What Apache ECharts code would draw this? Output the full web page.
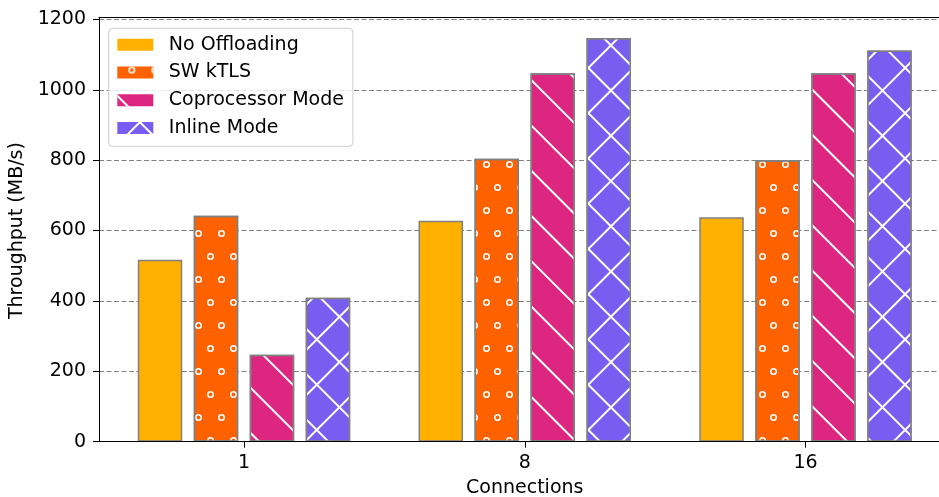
<!DOCTYPE html>
<html><head><meta charset="utf-8">
<script src="https://cdn.jsdelivr.net/npm/echarts@6/dist/echarts.min.js"></script>
<style>html,body{margin:0;padding:0;background:#fff}#c{width:939px;height:497px}</style>
</head><body><div id="c"></div>
<script>
// ---- data ----
const categories = ['1', '8', '16'];
const seriesNames = ['No Offloading', 'SW kTLS', 'Coprocessor Mode', 'Inline Mode'];
const noOffloading = [517, 628, 638];
const swKtls = [642, 804, 800];
const coprocessorMode = [247, 1047, 1047];
const inlineMode = [409, 1147, 1112];
const yTickMin = 0, yTickMax = 1200, yTickStep = 200;
const xAxisTitle = 'Connections';
const yAxisTitle = 'Throughput (MB/s)';

// ---- layout / style ----
const FONT = 'DejaVu Sans';
const FS = 19;
const axisTop = 1206;
const L = 99, T = 17.3, B = 55.3;
const plotH = 497 - T - B;
const pxPerUnit = plotH / axisTop;
const tickTop = T + (axisTop - yTickMax) * pxPerUnit;
const colors = ['#FFB000', '#FE6100', '#DC267F', '#785EF0'];
const ring = 'path://M10,0A10,10,0,1,1,-10,0A10,10,0,1,1,10,0Z M5.6,0A5.6,5.6,0,1,0,-5.6,0A5.6,5.6,0,1,0,5.6,0Z';
const decals = [
  null,
  { symbol: ring, symbolSize: 1, dashArrayX: [[7, 16], [0, 11, 7, 5]], dashArrayY: [7, 16], color: '#ffffff', rotation: 0 },
  { symbol: 'rect', symbolSize: 1, dashArrayX: [1, 0], dashArrayY: [2, 30], color: '#ffffff', rotation: Math.PI / 4 },
  { symbol: 'path://M0,15H32V17H0Z M15,0H17V32H15Z', symbolSize: 1, dashArrayX: [32, 0], dashArrayY: [32, 0], color: '#ffffff', rotation: Math.PI / 4 }
];
const values = [noOffloading, swKtls, coprocessorMode, inlineMode];

const frameAxis = (extra) => Object.assign({
  type: 'value', min: 0, max: 1, z: 3,
  axisLine: { show: true, lineStyle: { color: '#000', width: 1 } },
  axisTick: { show: false }, axisLabel: { show: false }, splitLine: { show: false }
}, extra);

const chart = echarts.init(document.getElementById('c'), null, { renderer: 'canvas' });
chart.setOption({
  animation: false,
  backgroundColor: '#ffffff',
  textStyle: { fontFamily: FONT },
  grid: [
    { left: L, right: 0, top: T, bottom: B, outerBoundsMode: 'none', containLabel: false },
    { left: L, right: 0, top: tickTop, bottom: B, outerBoundsMode: 'none', containLabel: false },
    { left: 103.6, width: 842.3, top: T, bottom: B, outerBoundsMode: 'none', containLabel: false }
  ],
  xAxis: [
    frameAxis({ gridIndex: 0, position: 'bottom' }),
    frameAxis({ gridIndex: 0, position: 'top' }),
    { gridIndex: 1, type: 'value', min: 0, max: 1, show: false },
    {
      gridIndex: 2, type: 'category', data: categories,
      axisLine: { show: false },
      axisTick: { show: true, alignWithLabel: true, length: 6, lineStyle: { color: '#000', width: 1 } },
      axisLabel: { color: '#000', fontSize: FS, fontFamily: FONT, margin: 12 },
      splitLine: { show: false },
      name: xAxisTitle, nameLocation: 'middle', nameGap: 37,
      nameTextStyle: { color: '#000', fontSize: FS, fontFamily: FONT }
    }
  ],
  yAxis: [
    frameAxis({ gridIndex: 0 }),
    {
      gridIndex: 1, type: 'value', min: yTickMin, max: yTickMax, interval: yTickStep,
      axisLine: { show: false },
      axisTick: { show: true, length: 6, lineStyle: { color: '#000', width: 1 } },
      axisLabel: { color: '#000', fontSize: FS, fontFamily: FONT, margin: 13, formatter: (v) => String(v) },
      splitLine: { show: true, lineStyle: { color: '#808080', width: 1, type: [5, 2.5] } },
      name: yAxisTitle, nameLocation: 'middle', nameGap: 71.5,
      nameTextStyle: { color: '#000', fontSize: FS, fontFamily: FONT }
    },
    { gridIndex: 2, type: 'value', min: 0, max: axisTop, show: false }
  ],
  legend: {
    orient: 'vertical', left: 108.7, top: 28.3,
    icon: 'rect', itemWidth: 36, itemHeight: 12, itemGap: 5.8,
    padding: [5.4, 9, 7.2, 8.6],
    borderColor: '#cccccc', borderWidth: 1, borderRadius: 4,
    backgroundColor: 'rgba(255,255,255,0.8)',
    textStyle: { color: '#000', fontSize: FS, fontFamily: FONT, lineHeight: 22, padding: [0, 0, 0, 10.5] },
    itemStyle: { borderWidth: 0 },
    data: seriesNames
  },
  series: seriesNames.map((name, i) => ({
    name, type: 'bar', xAxisIndex: 3, yAxisIndex: 2,
    data: values[i],
    barWidth: 44.5, barGap: '25.8%',
    itemStyle: Object.assign({ color: colors[i], borderColor: '#808080', borderWidth: 1.5 },
      decals[i] ? { decal: decals[i] } : {})
  }))
});
</script></body></html>
